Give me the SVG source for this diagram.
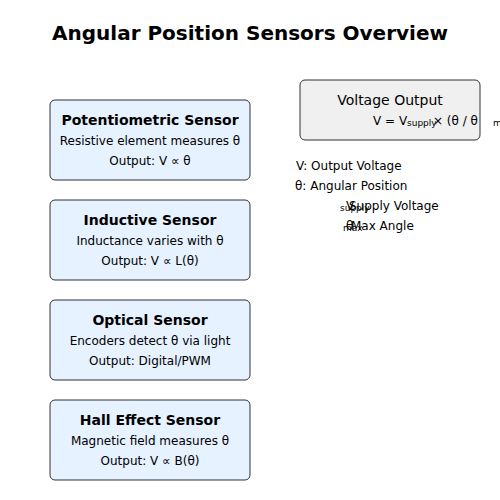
<svg xmlns="http://www.w3.org/2000/svg" width="500" height="500" viewBox="0 0 500 500">
<style>
text{font-family:"DejaVu Sans",sans-serif;fill:#000}
.box{fill:#e6f2ff;stroke:#333;stroke-width:1}
.h{font-size:14px;font-weight:bold;text-anchor:middle}
.d{font-size:12px;text-anchor:middle}
.l{font-size:12px}
.s{font-size:9px}
</style>
<rect width="500" height="500" fill="#fff"/>
<text x="250" y="40" text-anchor="middle" font-size="20" font-weight="bold">Angular Position Sensors Overview</text>
<g id="potentiometric">
<rect class="box" x="50" y="100" width="200" height="80" rx="5"/>
<text class="h" x="150" y="125">Potentiometric Sensor</text>
<text class="d" x="150" y="145">Resistive element measures θ</text>
<text class="d" x="150" y="165">Output: V ∝ θ</text>
</g>
<g id="inductive">
<rect class="box" x="50" y="200" width="200" height="80" rx="5"/>
<text class="h" x="150" y="225">Inductive Sensor</text>
<text class="d" x="150" y="245">Inductance varies with θ</text>
<text class="d" x="150" y="265">Output: V ∝ L(θ)</text>
</g>
<g id="optical">
<rect class="box" x="50" y="300" width="200" height="80" rx="5"/>
<text class="h" x="150" y="325">Optical Sensor</text>
<text class="d" x="150" y="345">Encoders detect θ via light</text>
<text class="d" x="150" y="365">Output: Digital/PWM</text>
</g>
<g id="hall">
<rect class="box" x="50" y="400" width="200" height="80" rx="5"/>
<text class="h" x="150" y="425">Hall Effect Sensor</text>
<text class="d" x="150" y="445">Magnetic field measures θ</text>
<text class="d" x="150" y="465">Output: V ∝ B(θ)</text>
</g>
<g id="voltage-output">
<rect x="300" y="80" width="180" height="60" rx="5" fill="#f0f0f0" stroke="#333"/>
<text x="390" y="105" text-anchor="middle" font-size="14">Voltage Output</text>
<text class="l" x="373" y="125">V = V</text>
<text class="s" x="407" y="126">supply</text>
<text class="l" x="433" y="125">× (θ / θ</text>
<text class="s" x="493" y="126">m</text>
</g>
<g id="legend">
<text class="l" x="296" y="170">V: Output Voltage</text>
<text class="l" x="295" y="190">θ: Angular Position</text>
<text class="s" x="340" y="211">supply</text>
<text class="l" x="346" y="210">V</text>
<text class="l" x="349" y="210">Supply Voltage</text>
<text class="s" x="343" y="231">max</text>
<text class="l" x="346" y="230">θ</text>
<text class="l" x="351" y="230">Max Angle</text>
</g>
<g id="connectors"></g>
</svg>
